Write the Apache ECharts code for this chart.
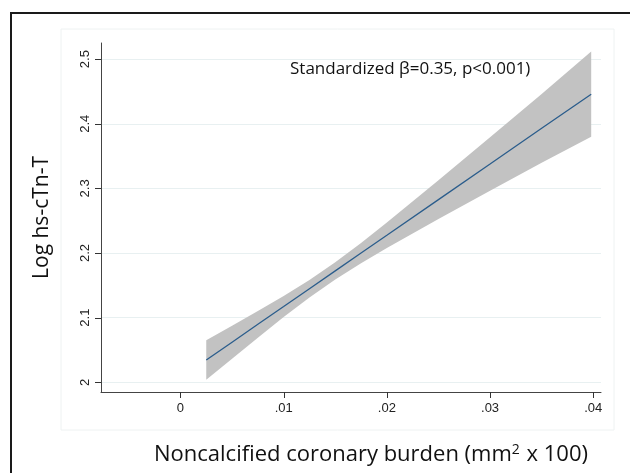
<!DOCTYPE html>
<html>
<head>
<meta charset="utf-8">
<script src="https://cdn.jsdelivr.net/npm/echarts@6/dist/echarts.min.js"></script>
<style>
  html, body { margin: 0; padding: 0; background: #fff; }
  #myCharts { width: 630px; height: 473px; }
</style>
</head>
<body>
<div id="myCharts"></div>
<script>
// values
const xValues = [0.0025, 0.005, 0.0075, 0.01, 0.0125, 0.015, 0.0175, 0.02, 0.025, 0.03, 0.035, 0.0398];
const fitValues = [2.0345, 2.0621, 2.0897, 2.1172, 2.1448, 2.1724, 2.2000, 2.2275, 2.2827, 2.3378, 2.3930, 2.4458];
const upperValues = [2.065, 2.0877, 2.1103, 2.1335, 2.1583, 2.1856, 2.2156, 2.2471, 2.3126, 2.3791, 2.4461, 2.5118];
const lowerValues = [2.004, 2.0365, 2.0691, 2.1009, 2.1313, 2.1592, 2.1844, 2.2079, 2.2528, 2.2965, 2.3399, 2.3800];
const xTicks = [0, 0.01, 0.02, 0.03, 0.04];
const yTicks = [2, 2.1, 2.2, 2.3, 2.4, 2.5];
const xMin = -0.0077, xMax = 0.04075;
const yMin = 1.985, yMax = 2.525;

const myCharts = echarts.init(document.getElementById("myCharts"));

const bandData = xValues.map((x, i) => [x, lowerValues[i], upperValues[i]]);
const fitData = xValues.map((x, i) => [x, fitValues[i]]);

// confidence band as one polygon: upper edge left->right, lower edge right->left
function renderBand(params, api) {
  if (params.dataIndex !== 0) return null;
  const pts = [];
  for (let i = 0; i < xValues.length; i++) {
    pts.push(api.coord([xValues[i], upperValues[i]]));
  }
  for (let i = xValues.length - 1; i >= 0; i--) {
    pts.push(api.coord([xValues[i], lowerValues[i]]));
  }
  return {
    type: "polygon",
    shape: { points: pts },
    style: { fill: "#c2c2c2" },
  };
}

// outward tick marks (Stata style)
const tickStyle = { stroke: "#333", lineWidth: 1 };
function renderXTick(params, api) {
  const p = api.coord([api.value(0), yMin]);
  const x = Math.round(p[0]) + 0.5;
  return { type: "line", shape: { x1: x, y1: p[1], x2: x, y2: p[1] + 6 }, style: tickStyle };
}
function renderYTick(params, api) {
  const p = api.coord([xMin, api.value(1)]);
  const y = Math.round(p[1]) + 0.5;
  return { type: "line", shape: { x1: p[0] - 6, y1: y, x2: p[0], y2: y }, style: tickStyle };
}

let option = {
  animation: false,
  backgroundColor: "#fff",
  graphic: [
    {
      // outer frame (only top/left visible)
      type: "rect",
      shape: { x: 11, y: 13, width: 640, height: 480 },
      style: { fill: "none", stroke: "#1a1a1a", lineWidth: 2 },
      silent: true,
    },
    {
      // faint plot region box
      type: "rect",
      shape: { x: 61, y: 29, width: 553, height: 401 },
      style: { fill: "none", stroke: "#eef2f2", lineWidth: 1 },
      silent: true,
    },
    {
      type: "text",
      left: 290,
      top: 61,
      style: {
        text: "Standardized β=0.35, p<0.001)",
        font: "17px 'Open Sans'",
        fill: "#111",
      },
    },
  ],
  title: {
    text: "Noncalcified coronary burden (mm{sup|2} x 100)",
    left: 154,
    top: 443,
    padding: 0,
    textStyle: {
      fontFamily: "Open Sans",
      fontSize: 22,
      fontWeight: "normal",
      color: "#111",
      rich: {
        sup: {
          fontFamily: "Open Sans",
          fontSize: 14,
          color: "#111",
          verticalAlign: "top",
          padding: [0, 1, 9, 0],
        },
      },
    },
  },
  grid: {
    left: 101,
    top: 43,
    right: 29,
    bottom: 81,
    containLabel: false,
  },
  xAxis: {
    type: "value",
    min: xMin,
    max: xMax,
    axisLine: { onZero: false, lineStyle: { color: "#444", width: 1 } },
    axisTick: { show: false, customValues: xTicks },
    axisLabel: {
      customValues: xTicks,
      margin: 10,
      color: "#222",
      fontFamily: "Liberation Sans",
      fontSize: 13,
      formatter: function (v) {
        return v === 0 ? "0" : String(Number(v.toFixed(3))).replace(/^0/, "");
      },
    },
    splitLine: { show: false },
  },
  yAxis: {
    type: "value",
    min: yMin,
    max: yMax,
    name: "Log hs-cTn-T",
    nameLocation: "middle",
    nameGap: 48,
    nameTextStyle: {
      fontFamily: "Open Sans",
      fontSize: 21,
      color: "#111",
    },
    axisLine: { show: true, onZero: false, lineStyle: { color: "#444", width: 1 } },
    axisTick: { show: false, customValues: yTicks },
    axisLabel: {
      customValues: yTicks,
      rotate: 90,
      margin: 9,
      color: "#222",
      fontFamily: "Liberation Sans",
      fontSize: 13,
      formatter: function (v) {
        return String(Number(v.toFixed(2)));
      },
    },
    splitLine: {
      show: true,
      lineStyle: { color: "#e8f0f1", width: 1 },
    },
  },
  series: [
    {
      name: "band",
      type: "custom",
      renderItem: renderBand,
      data: bandData,
      encode: { x: 0, y: [1, 2] },
      silent: true,
      z: 1,
    },
    {
      name: "fit",
      type: "line",
      symbol: "none",
      lineStyle: { color: "#2b5d8c", width: 1.3 },
      data: fitData,
      silent: true,
      z: 2,
    },
    {
      name: "xTicks",
      type: "custom",
      renderItem: renderXTick,
      data: xTicks.map((v) => [v, yMin]),
      clip: false,
      silent: true,
      z: 3,
    },
    {
      name: "yTicks",
      type: "custom",
      renderItem: renderYTick,
      data: yTicks.map((v) => [xMin, v]),
      clip: false,
      silent: true,
      z: 3,
    },
  ],
};

myCharts.setOption(option);
</script>
</body>
</html>
